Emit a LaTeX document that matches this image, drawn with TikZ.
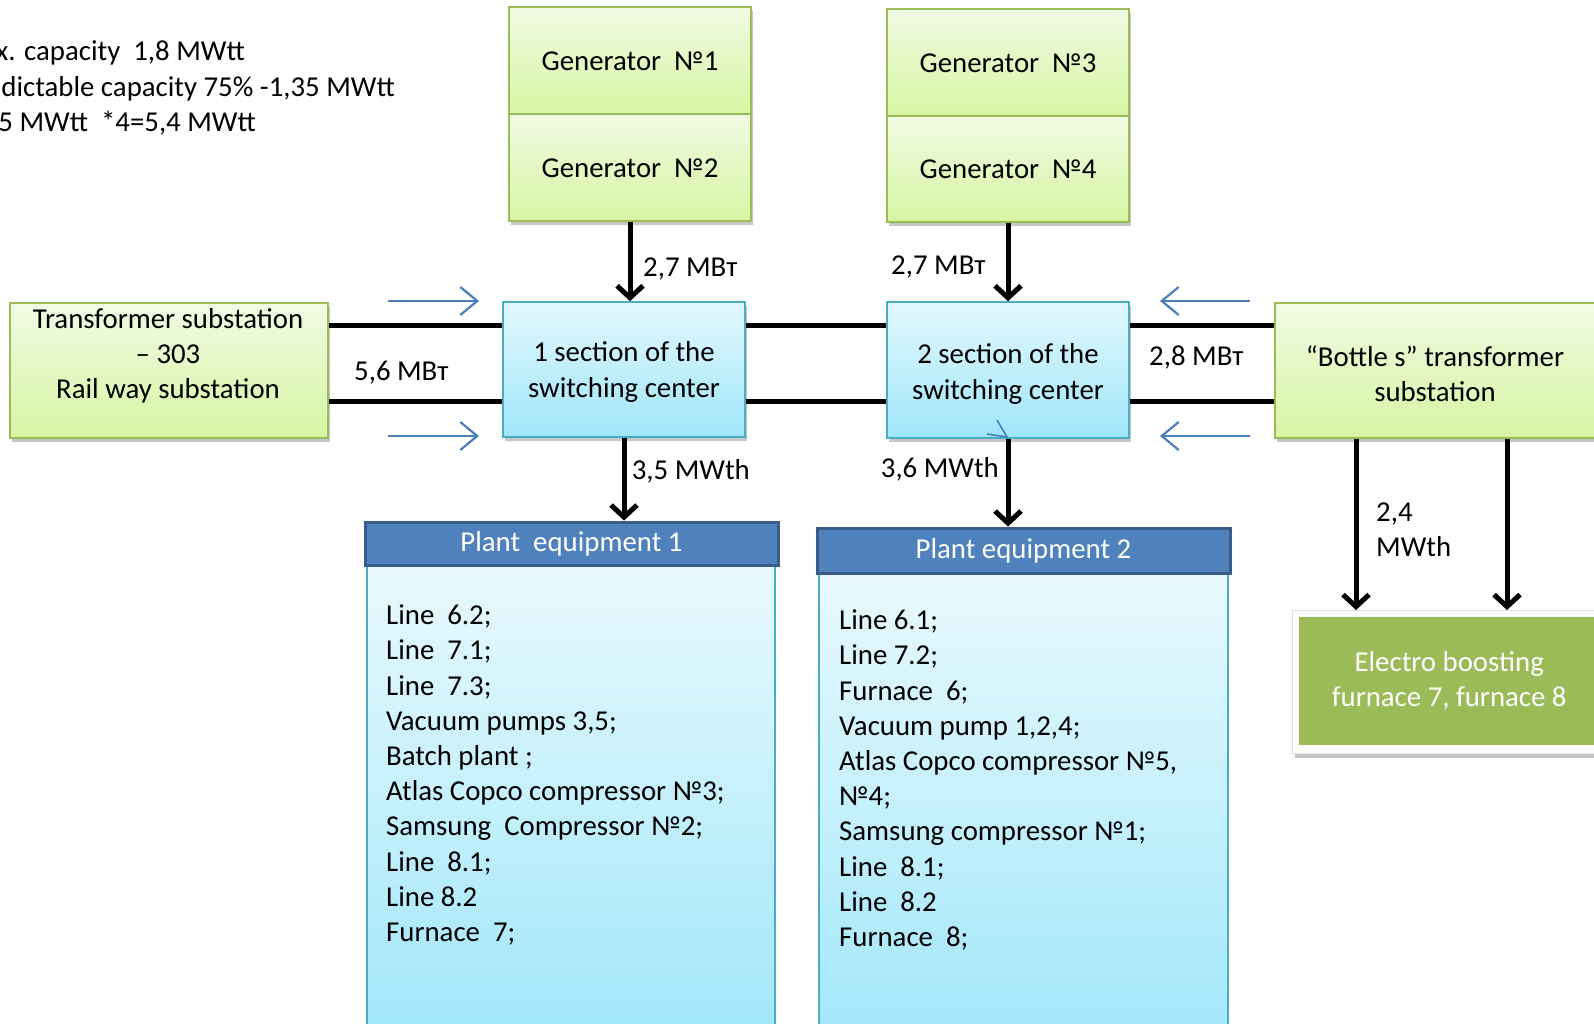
\documentclass[tikz,border=0pt]{standalone}
\usepackage{fontspec}
\setmainfont{Carlito}
\usetikzlibrary{arrows.meta,shadows}
\definecolor{gTop}{HTML}{F1FAE3}
\definecolor{gBot}{HTML}{D6F5A2}
\definecolor{gLine}{HTML}{9BBB59}
\definecolor{bTop}{HTML}{E3F8FD}
\definecolor{bBot}{HTML}{9FE6FA}
\definecolor{bLine}{HTML}{4BACC6}
\definecolor{hFill}{HTML}{4F81BD}
\definecolor{hLine}{HTML}{385D8A}
\definecolor{arrBlue}{HTML}{4A7EBB}
\definecolor{oliveG}{HTML}{9BBB59}
\begin{document}
\begin{tikzpicture}[x=1pt,y=-1pt,
  every node/.style={font=\fontsize{28.8}{35.2}\selectfont, inner sep=0pt},
  shadowed/.style={drop shadow={shadow xshift=2pt, shadow yshift=-4pt, opacity=0.22, fill=black}},
  gbox/.style={draw=gLine, line width=1.6pt, top color=gTop, bottom color=gBot, shadowed},
  bbox/.style={draw=bLine, line width=1.6pt, top color=bTop, bottom color=bBot, shadowed},
  gentext/.style={text height=25pt, text depth=5pt},
  hdr/.style={draw=hLine, line width=3pt, fill=hFill, text=white},
  body/.style={draw=bLine, line width=1.6pt, top color=bTop!80!white, bottom color=bBot},
  bus/.style={line width=5pt},
  pow/.style={line width=5pt, -{Straight Barb[length=12pt,width=26pt]}},
  flow/.style={draw=arrBlue, line width=2.2pt, -{Straight Barb[length=17pt,width=28pt]}},
  lbl/.style={anchor=base west}
]
\useasboundingbox (0,0) rectangle (1594,1024);

% capacity notes (cut at left edge)
\node[anchor=base east] (c1) at (245,60.5) {x. capacity\ \ 1,8 MWtt};
\node[anchor=base east] (c2) at (395,96.5) {dictable capacity 75\% -1,35 MWtt};
\node[anchor=base east] (c3) at (256,131.5) {5 MWtt\ \ *4=5,4 MWtt};

% generators
\node[gbox, gentext, minimum width=242pt, minimum height=107pt] (g1) at (630,60.5) {Generator\ \ №1};
\node[gbox, gentext, minimum width=242pt, minimum height=107pt] (g2) at (630,167.5) {Generator\ \ №2};
\node[gbox, gentext, minimum width=242pt, minimum height=107pt] (g3) at (1008,62.5) {Generator\ \ №3};
\node[gbox, gentext, minimum width=242pt, minimum height=106pt] (g4) at (1008,169) {Generator\ \ №4};

% substations and sections
\node[gbox, minimum width=318pt, minimum height=135pt] (ts) at (169,370.5) {};
\node[align=center] (tsT) at (168,356) {Transformer substation\\– 303\\Rail way substation};
\node[bbox, minimum width=242pt, minimum height=135pt] (s1) at (624,369.5) {};
\node[align=center] (s1T) at (624,372) {1 section of the\\switching center};
\node[bbox, minimum width=242pt, minimum height=136pt] (s2) at (1008,370) {};
\node[align=center] (s2T) at (1008,374) {2 section of the\\switching center};
\node[gbox, minimum width=321pt, minimum height=135pt] (bt) at (1435.5,370.5) {};
\node[align=center] (btT) at (1435,374) {“Bottle s” transformer\\substation};

% plant equipment 1
\node[body, minimum width=408pt, minimum height=480pt, anchor=north] (pe1b) at (571,565) {};
\node[hdr, minimum width=413pt, minimum height=43pt] (pe1h) at (571.5,543.5) {Plant\ \ equipment 1};
\node[anchor=base west, align=left] (pe1L) at (386,941.5) {Line\ \ 6.2;\\Line\ \ 7.1;\\Line\ \ 7.3;\\Vacuum pumps 3,5;\\Batch plant ;\\Atlas Copco compressor №3;\\Samsung\ \ Compressor №2;\\Line\ \ 8.1;\\Line 8.2\\Furnace\ \ 7;};

% plant equipment 2
\node[body, minimum width=409pt, minimum height=480pt, anchor=north] (pe2b) at (1023.5,573) {};
\node[hdr, minimum width=413pt, minimum height=45pt] (pe2h) at (1023.5,550.5) {Plant equipment 2};
\node[anchor=base west, align=left] (pe2L) at (839,946.5) {Line 6.1;\\Line 7.2;\\Furnace\ \ 6;\\Vacuum pump 1,2,4;\\Atlas Copco compressor №5,\\№4;\\Samsung compressor №1;\\Line\ \ 8.1;\\Line\ \ 8.2\\Furnace\ \ 8;};

% electro boosting
\node[draw=black!12, line width=1pt, fill=white, shadowed, minimum width=310pt, minimum height=143pt, anchor=north west] (ebf) at (1292,610) {};
\node[fill=oliveG, text=white, align=center, minimum width=300pt, minimum height=128pt, anchor=north west] (eb) at (1299,617) {Electro boosting\\furnace 7, furnace 8};

% bus lines
\coordinate (yT) at (0,325);
\coordinate (yB) at (0,401);
\draw[bus] (ts.east |- yT) -- (s1.west |- yT);
\draw[bus] (ts.east |- yB) -- (s1.west |- yB);
\draw[bus] (s1.east |- yT) -- (s2.west |- yT);
\draw[bus] (s1.east |- yB) -- (s2.west |- yB);
\draw[bus] (s2.east |- yT) -- (bt.west |- yT);
\draw[bus] (s2.east |- yB) -- (bt.west |- yB);

% power arrows
\draw[pow] (g2.south) -- (g2.south |- s1.north);
\draw[pow] (g4.south) -- (g4.south |- s2.north);
\draw[pow] (s1.south) -- (s1.south |- pe1h.north);
\draw[pow] (s2.south) -- (s2.south |- pe2h.north);
\coordinate (btA) at (1356,0);
\coordinate (btB) at (1507,0);
\draw[pow] (bt.south -| btA) -- (ebf.north -| btA);
\draw[pow] (bt.south -| btB) -- (ebf.north -| btB);

% blue flow arrows
\coordinate (fa1s) at (388,301); \coordinate (fa1e) at (479,301);
\coordinate (fa2s) at (388,436); \coordinate (fa2e) at (479,436);
\coordinate (fa3s) at (1250,301); \coordinate (fa3e) at (1160,301);
\coordinate (fa4s) at (1250,436); \coordinate (fa4e) at (1160,436);
\draw[flow] (fa1s) -- (fa1e);
\draw[flow] (fa2s) -- (fa2e);
\draw[flow] (fa3s) -- (fa3e);
\draw[flow] (fa4s) -- (fa4e);
\draw[arrBlue, line width=1.6pt] (997,420) -- (1007,437) -- (987,434);

% labels
\node[lbl] (l27a) at (643,276.5) {2,7 МВт};
\node[lbl] (l27b) at (891,274.5) {2,7 МВт};
\node[lbl] (l56) at (354,380.5) {5,6 МВт};
\node[lbl] (l28) at (1149,365.5) {2,8 МВт};
\node[anchor=base east] (l35) at (750,479.5) {3,5 MWth};
\node[anchor=base east] (l36) at (999,477.5) {3,6 MWth};
\node[anchor=base west, align=left] (l24) at (1376,556.5) {2,4\\MWth};
\end{tikzpicture}
\end{document}
